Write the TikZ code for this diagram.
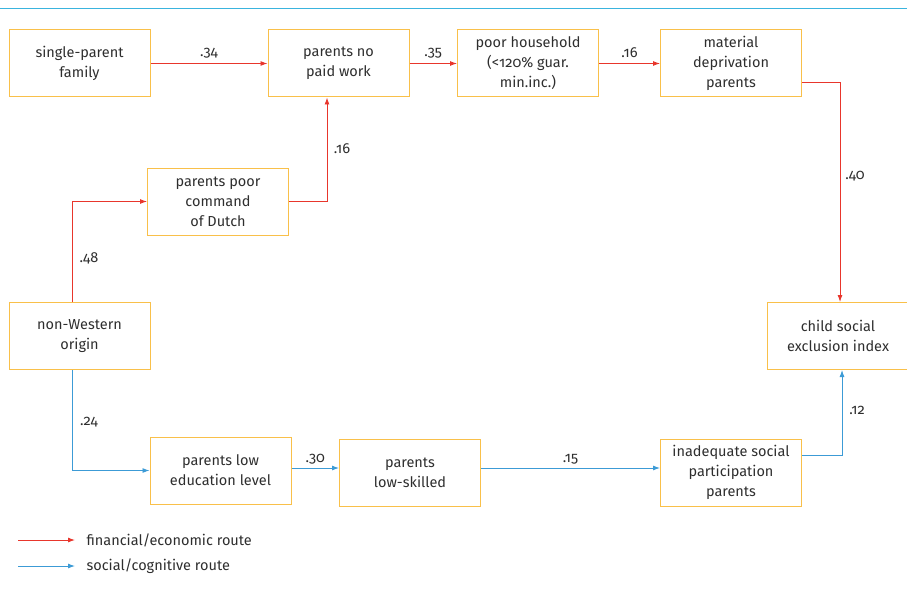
\documentclass[tikz,border=0pt]{standalone}
\usepackage{fontspec}
\setmainfont{Fira Sans}[Numbers=OldStyle]
\usepackage{tikz}
\usepackage{xcolor}
\usetikzlibrary{arrows.meta, positioning}

\definecolor{boxline}{HTML}{F9C04A}
\definecolor{econ}{HTML}{E8362C}
\definecolor{soc}{HTML}{3C9BD6}
\definecolor{rule}{HTML}{3AB4DE}
\definecolor{txt}{HTML}{2E2E2E}

\tikzset{
    factor/.style={draw=boxline, line width=1pt, minimum width=141pt, minimum height=67pt,
        inner sep=0pt, align=center, text=txt, font=\fontsize{14.5}{20}\selectfont},
    fin/.style={draw=econ, line width=0.9pt, -{Latex[length=7pt, width=5pt]}},
    cog/.style={draw=soc, line width=0.9pt, -{Latex[length=7pt, width=5pt]}},
    coef/.style={text=txt, font=\fontsize{14.5}{17}\selectfont}
}

\begin{document}
\begin{tikzpicture}[x=1pt, y=-1pt]
        \useasboundingbox (0, 0) rectangle (907, 591);
        \draw[rule, line width=0.8pt] (0, 8) -- (907, 8);

        \node[factor] (s) at (79.5, 63.5) {single-parent\\family};
        \node[factor] (w) at (338.5, 63.5) {parents no\\paid work};
        \node[factor] (p) at (528, 63.5) {poor household\\(<120\% guar.\\min.inc.)};
        \node[factor] (m) at (731, 63.5) {material\\deprivation\\parents};
        \node[factor] (d) at (218, 201.5) {parents poor\\command\\of Dutch};
        \node[factor] (o) at (79.5, 336) {non-Western\\origin};
        \node[factor] (c) at (838, 336) {child social\\exclusion index};
        \node[factor] (e) at (220.5, 470.5) {parents low\\education level};
        \node[factor] (l) at (410, 472.5) {parents\\low-skilled};
        \node[factor] (i) at (731, 472.5) {inadequate social\\participation\\parents};

        % financial/economic route
        \draw[fin] (s) -- node[coef, above=2pt] {.34} (w);
        \draw[fin] (w) -- node[coef, above=2pt] {.35} (p);
        \draw[fin] (p) -- node[coef, above=2pt] {.16} (m);
        \draw[fin] (m.east |- 0, 82) -| (c.north -| 840, 0);
        \draw[fin] (d.east) -| (w.south -| 327, 0);
        \draw[fin] (o.north -| 72, 0) |- (d.west);
        \node[coef] (k40) at (855, 176) {.40};
        \node[coef] (k16) at (342, 149) {.16};
        \node[coef] (k48) at (89, 258) {.48};

        % social/cognitive route
        \draw[cog] (o.south -| 72, 0) |- (e.west);
        \draw[cog] (e.east |- 0, 468) -- node[coef, above=0pt] {.30} (l.west |- 0, 468);
        \draw[cog] (l.east |- 0, 468) -- node[coef, above=0pt] {.15} (i.west |- 0, 468);
        \draw[cog] (i.east |- 0, 455) -| (c.south -| 842, 0);
        \node[coef] (k24) at (89, 422) {.24};
        \node[coef] (k12) at (857, 410) {.12};

        % legend
        \coordinate (f0) at (18, 540);
        \coordinate (f1) at (75, 540);
        \coordinate (g0) at (18, 566);
        \coordinate (g1) at (75, 566);
        \draw[fin] (f0) -- (f1);
        \draw[cog] (g0) -- (g1);
        \node[coef, anchor=west] (fl) at (83, 540) {financial/economic route};
        \node[coef, anchor=west] (gl) at (83, 566) {social/cognitive route};
    \end{tikzpicture}
\end{document}
